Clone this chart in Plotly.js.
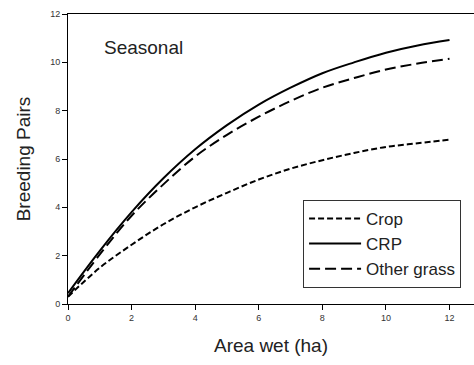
<!DOCTYPE html>
<html>
<head>
<meta charset="utf-8">
<script src="https://cdn.plot.ly/plotly-3.0.1.min.js"></script>
<style>html,body{margin:0;padding:0;background:#fff;}#chart{width:474px;height:365px;}</style>
</head>
<body>
<div id="chart"></div>
<script>
const areaWet = [0, 1, 2, 3, 4, 5, 6, 7, 8, 9, 10, 11, 12];
const crop = [0.3, 1.5, 2.45, 3.3, 4.0, 4.6, 5.15, 5.6, 5.95, 6.25, 6.5, 6.65, 6.8];
const crp = [0.45, 2.2, 3.8, 5.2, 6.4, 7.4, 8.25, 8.95, 9.55, 10.0, 10.4, 10.7, 10.92];
const otherGrass = [0.3, 2.05, 3.65, 4.95, 6.1, 7.0, 7.75, 8.4, 8.95, 9.35, 9.7, 9.95, 10.15];
const seriesNames = ["Crop", "CRP", "Other grass"];
const xTicks = [0, 2, 4, 6, 8, 10, 12];
const yTicks = [0, 2, 4, 6, 8, 10, 12];

const font = "Liberation Sans, Arial, sans-serif";
const traces = [
  {x: areaWet, y: crop, name: seriesNames[0], mode: "lines", line: {color: "#000", width: 2, dash: "6px,3px", shape: "spline"}},
  {x: areaWet, y: crp, name: seriesNames[1], mode: "lines", line: {color: "#000", width: 2, shape: "spline"}},
  {x: areaWet, y: otherGrass, name: seriesNames[2], mode: "lines", line: {color: "#000", width: 2, dash: "11px,5px", shape: "spline"}}
];
const layout = {
  width: 474, height: 365,
  margin: {l: 68, r: 0, t: 14, b: 61},
  paper_bgcolor: "#fff", plot_bgcolor: "#fff",
  font: {family: font, color: "#222"},
  showlegend: true,
  legend: {x: 0.579, y: 0.359, xanchor: "left", yanchor: "top", bordercolor: "#333", borderwidth: 1,
    bgcolor: "#fff", font: {size: 17, family: font, color: "#222"}, tracegroupgap: 0, itemwidth: 52},
  xaxis: {range: [0, 12.77], tickvals: xTicks, ticks: "outside", ticklen: 5, tickcolor: "#000",
    showline: true, linecolor: "#000", linewidth: 1, mirror: true, showgrid: false, zeroline: false,
    tickfont: {size: 9, family: font, color: "#333"},
    title: {text: "Area wet (ha)", font: {size: 19, family: font, color: "#222"}, standoff: 16}},
  yaxis: {range: [0, 12], tickvals: yTicks, ticks: "outside", ticklen: 5, tickcolor: "#000",
    showline: true, linecolor: "#000", linewidth: 1, showgrid: false, zeroline: false,
    tickfont: {size: 9, family: font, color: "#333"},
    title: {text: "Breeding Pairs", font: {size: 19, family: font, color: "#222"}, standoff: 14}},
  annotations: [{x: 1.08, y: 10.63, xref: "x", yref: "y", xanchor: "left", yanchor: "middle",
    text: "Seasonal", showarrow: false, font: {size: 19, family: font, color: "#222"}}]
};
Plotly.newPlot("chart", traces, layout, {displayModeBar: false, staticPlot: true});
</script>
</body>
</html>
